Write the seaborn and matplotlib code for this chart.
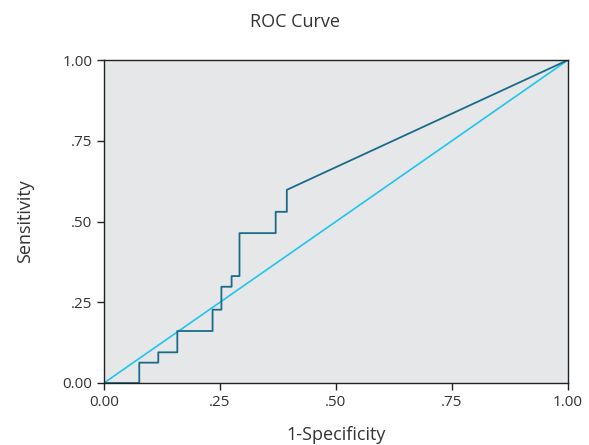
import matplotlib
matplotlib.use("Agg")
import matplotlib.pyplot as plt
import seaborn as sns
import pandas as pd

# ROC step thresholds (1-specificity, sensitivity)
fpr_steps = [0.076, 0.117, 0.158, 0.234, 0.253, 0.275, 0.292, 0.370, 0.394]
tpr_steps = [0.063, 0.095, 0.161, 0.227, 0.298, 0.331, 0.464, 0.530, 0.598]
tick_vals = [0.0, 0.25, 0.5, 0.75, 1.0]
tick_labels = ["0.00", ".25", ".50", ".75", "1.00"]

# build ROC polyline (staircase corners)
xs, ys = [0.0], [0.0]
prev_y = 0.0
for fx, ty in zip(fpr_steps, tpr_steps):
    xs.append(fx); ys.append(prev_y)
    xs.append(fx); ys.append(ty)
    prev_y = ty
xs.append(1.0); ys.append(1.0)
roc = pd.DataFrame({"x": xs, "y": ys})
ref = pd.DataFrame({"x": [0.0, 1.0], "y": [0.0, 1.0]})

sns.set_style("white")
plt.rcParams["font.family"] = ["Open Sans", "DejaVu Sans"]

fig = plt.figure(figsize=(5.89, 4.45), dpi=100)
ax = fig.add_axes([104/589, 62/445, 464/589, 323/445])
ax.set_facecolor("#e6e7e9")

sns.lineplot(data=ref, x="x", y="y", ax=ax, color="#20c4ee", linewidth=1.2,
             sort=False, estimator=None)
sns.lineplot(data=roc, x="x", y="y", ax=ax, color="#1a6b8a", linewidth=1.3,
             sort=False, estimator=None)

ax.set_xlim(0, 1)
ax.set_ylim(0, 1)
ax.set_xticks(tick_vals)
ax.set_xticklabels(tick_labels)
ax.set_yticks(tick_vals)
ax.set_yticklabels(tick_labels)
for s in ax.spines.values():
    s.set_color("#222222")
    s.set_linewidth(1.0)
ax.tick_params(axis="both", which="both", direction="out", length=5, width=1,
               color="#222222", labelsize=11, labelcolor="#333333",
               bottom=True, left=True, top=False, right=False)
ax.set_xlabel("1-Specificity", fontsize=13, color="#333333", labelpad=12)
ax.set_ylabel("Sensitivity", fontsize=13, color="#333333", labelpad=20)
fig.text(0.5, 1 - 22/445, "ROC Curve", ha="center", va="center",
         fontsize=13, color="#333333")

fig.savefig("out.png", dpi=100)
